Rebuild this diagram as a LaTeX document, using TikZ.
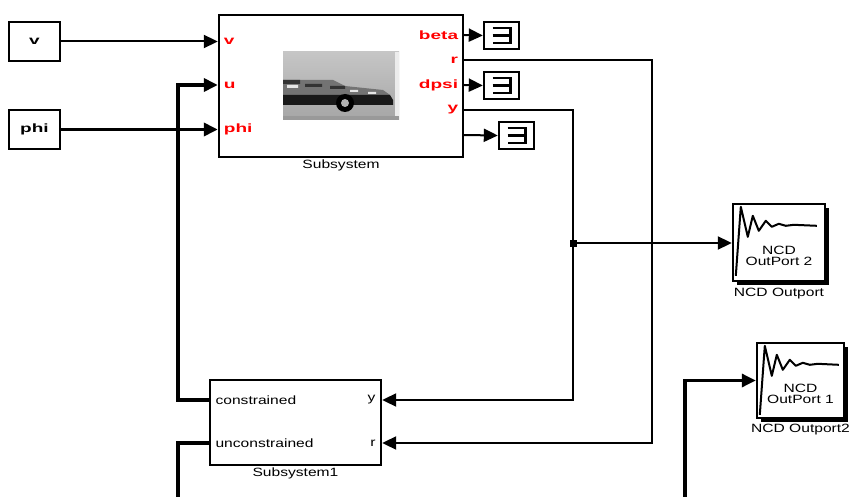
\documentclass[tikz,border=0pt]{standalone}
\usepackage{fontspec}
\setmainfont{Liberation Sans}
\usetikzlibrary{arrows.meta,shadows}

\newcommand\ncdwave[2]{%
  \draw[line width=2pt, line join=round, shift={(#1.north west)}]
    (4,73) -- (9,4) -- (16,34) -- (21,13) -- (27,28) -- (34,18) -- (40,24)
    -- (47,21) -- (54,23) -- (62,22) -- (#2,23);}

\begin{document}
\begin{tikzpicture}[x=1pt,y=-1pt,
    blk/.style={shape=rectangle, draw, line width=2.4pt, inner sep=0pt, fill=white},
    txt/.style={font=\fontsize{12}{13}\selectfont, xscale=1.3, inner sep=1pt},
    boldtxt/.style={txt, font=\fontsize{12}{13}\selectfont\bfseries, xscale=1.22},
    portred/.style={boldtxt, text=red},
    tip/.style={-{Triangle[length=14pt,width=13pt]}},
    sig/.style={line width=2pt, tip},
    bus/.style={line width=3.8pt},
    termbox/.style={blk, minimum width=35pt, minimum height=27pt,
      path picture={\draw[line width=2.2pt, shift={(path picture bounding box.center)}]
        (-9,-7.5) -- (9,-7.5) -- (9,7.5) -- (-9,7.5) (-9,0) -- (9,0);}},
    ncd/.style={blk, drop shadow={shadow xshift=4pt, shadow yshift=-4pt, fill=black, opacity=1}}]
    \useasboundingbox (0,0) rectangle (851,497);

    % sources
    \node[blk, minimum width=51pt, minimum height=39pt] (v) at (34.5,41.5) {};
    \node[boldtxt] at (v.center) {v};
    \node[blk, minimum width=51pt, minimum height=39pt] (phi) at (34.5,129.5) {};
    \node[boldtxt] at (phi.center) {phi};

    % vehicle subsystem
    \node[blk, minimum width=244pt, minimum height=142pt] (sub) at (341,86) {};
    \node[txt, anchor=north] (subcap) at (sub.south) {Subsystem};
    \node[portred, anchor=west] (pv) at (222,41) {v};
    \node[portred, anchor=west] (pu) at (222,85) {u};
    \node[portred, anchor=west] (pphi) at (222,129) {phi};
    \node[portred, anchor=east] (pbeta) at (460,35) {beta};
    \node[portred, anchor=east] (pr) at (460,60) {r};
    \node[portred, anchor=east] (pdpsi) at (460,85) {dpsi};
    \node[portred, anchor=east] (py) at (460,110) {y};
    \coordinate (p5) at (463,135);

    % car picture
    \shade[top color=gray!45, bottom color=gray!70] (283,52) rectangle (399,120);
    \fill[gray!15] (395,52) rectangle (399,120);
    \fill[black!55] (283,80) -- (333,80) -- (345,86) -- (383,90) -- (390,95) -- (283,95) -- cycle;
    \fill[black!80] (283,80) rectangle (300,84) (305,84) rectangle (322,87) (330,86) rectangle (345,89);
    \fill[black!90] (283,95) -- (390,95) -- (393,100) -- (393,105) -- (283,105) -- cycle;
    \fill[gray!20] (287,85) rectangle (298,88) (350,90) rectangle (358,92) (368,92) rectangle (376,94);
    \fill[black] (345,103) circle (9);
    \fill[gray!60] (345,103) circle (4);
    \fill[gray!80] (283,116) rectangle (399,120);

    % terminators
    \node[termbox] (t1) at (501.5,35.5) {};
    \node[termbox] (t2) at (501.5,85.5) {};
    \node[termbox] (t3) at (516.5,135.5) {};

    % controller subsystem
    \node[blk, minimum width=171pt, minimum height=85pt] (subb) at (295.5,422.5) {};
    \node[txt, anchor=north] (subbcap) at (subb.south) {Subsystem1};
    \node[txt, anchor=west] (cons) at (214,400) {constrained};
    \node[txt, anchor=west] (uncons) at (214,443) {unconstrained};
    \node[txt, anchor=east] (sy) at (377,400) {y};
    \node[txt, anchor=east] (sr) at (377,443) {r};

    % NCD blocks
    \node[ncd, minimum width=92pt, minimum height=77pt] (ncda) at (779,242.5) {};
    \ncdwave{ncda}{85}
    \node[txt, align=center] at ([yshift=-13pt]ncda.center) {NCD\\[-2pt]OutPort 2};
    \node[txt, anchor=north] (ncdacap) at ([yshift=-5pt]ncda.south) {NCD Outport};
    \node[ncd, minimum width=87pt, minimum height=75pt] (ncdb) at (800.5,380.5) {};
    \ncdwave{ncdb}{83}
    \node[txt, align=center] at ([yshift=-13pt]ncdb.center) {NCD\\[-2pt]OutPort 1};
    \node[txt, anchor=north] (ncdbcap) at ([yshift=-4pt]ncdb.south) {NCD Outport2};

    % connections
    \draw[sig] (v.east) -- (v.east -| sub.west);
    \draw[bus, tip] (phi.east) -- (phi.east -| sub.west);
    \draw[sig] (sub.east |- pbeta) -- (t1.west);
    \draw[sig] (sub.east |- pdpsi) -- (t2.west);
    \draw[sig] (p5) -- (t3.west);

    \coordinate (uc) at (178,85);
    \draw[bus, tip] (subb.west |- cons) -| (uc) -- (uc -| sub.west);
    \coordinate (ue) at (178,497);
    \draw[bus] (subb.west |- uncons) -| (ue);

    \coordinate (rc) at (652,443);
    \draw[sig] (sub.east |- pr) -| (rc) -- (rc -| subb.east);
    \coordinate (yc) at (573,400);
    \draw[sig] (sub.east |- py) -| (yc) -- (yc -| subb.east);
    \coordinate (jn) at (573,243);
    \fill (jn) ++(-3.5,-3.5) rectangle ++(7,7);
    \draw[sig] (jn) -- (jn -| ncda.west);

    \coordinate (ne) at (685,497);
    \draw[line width=3.2pt, tip] (ne) |- (ncdb.west);
\end{tikzpicture}
\end{document}
